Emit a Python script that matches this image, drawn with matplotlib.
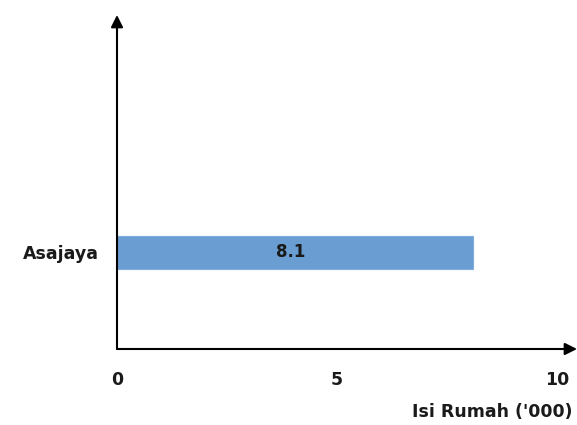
import matplotlib.pyplot as plt

# data
districts = ["Asajaya"]
households = [8.1]
x_ticks = [0, 5, 10]

fig = plt.figure(figsize=(5.77, 4.25), dpi=100)
ax = fig.add_axes([117 / 577, 76 / 425, 460 / 577, 334 / 425])

bars = ax.barh(districts, households, height=0.5, color="#6A9DD2", edgecolor="#7FAEDC", linewidth=0.8)
for b, v in zip(bars, households):
    ax.text(b.get_width() / 2 - 0.1, b.get_y() + b.get_height() / 2, f"{v}",
            ha="center", va="center", fontsize=12, fontweight="bold", color="#1a1a1a")

ax.set_xlim(0, 460 / 44)
ax.set_ylim(-1.465, 3.59)
ax.set_xticks(x_ticks)
ax.tick_params(axis="both", length=0, labelsize=12.5)
ax.tick_params(axis="x", pad=16)
ax.tick_params(axis="y", pad=13)
for lbl in ax.get_xticklabels() + ax.get_yticklabels():
    lbl.set_fontweight("bold")
    lbl.set_color("#1a1a1a")

for s in ax.spines.values():
    s.set_visible(False)

# axis arrows
ax.annotate("", xy=(1.0, 0), xytext=(0, 0), xycoords="axes fraction",
            arrowprops=dict(arrowstyle="-|>", color="black", lw=1.5, mutation_scale=18, shrinkA=0, shrinkB=0))
ax.annotate("", xy=(0, 1.0), xytext=(0, 0), xycoords="axes fraction",
            arrowprops=dict(arrowstyle="-|>", color="black", lw=1.5, mutation_scale=18, shrinkA=0, shrinkB=0))

fig.text(572 / 577, 1 - 412 / 425, "Isi Rumah ('000)", ha="right", va="center",
         fontsize=12.5, fontweight="bold", color="#1a1a1a")

fig.savefig("out.png", dpi=100)
